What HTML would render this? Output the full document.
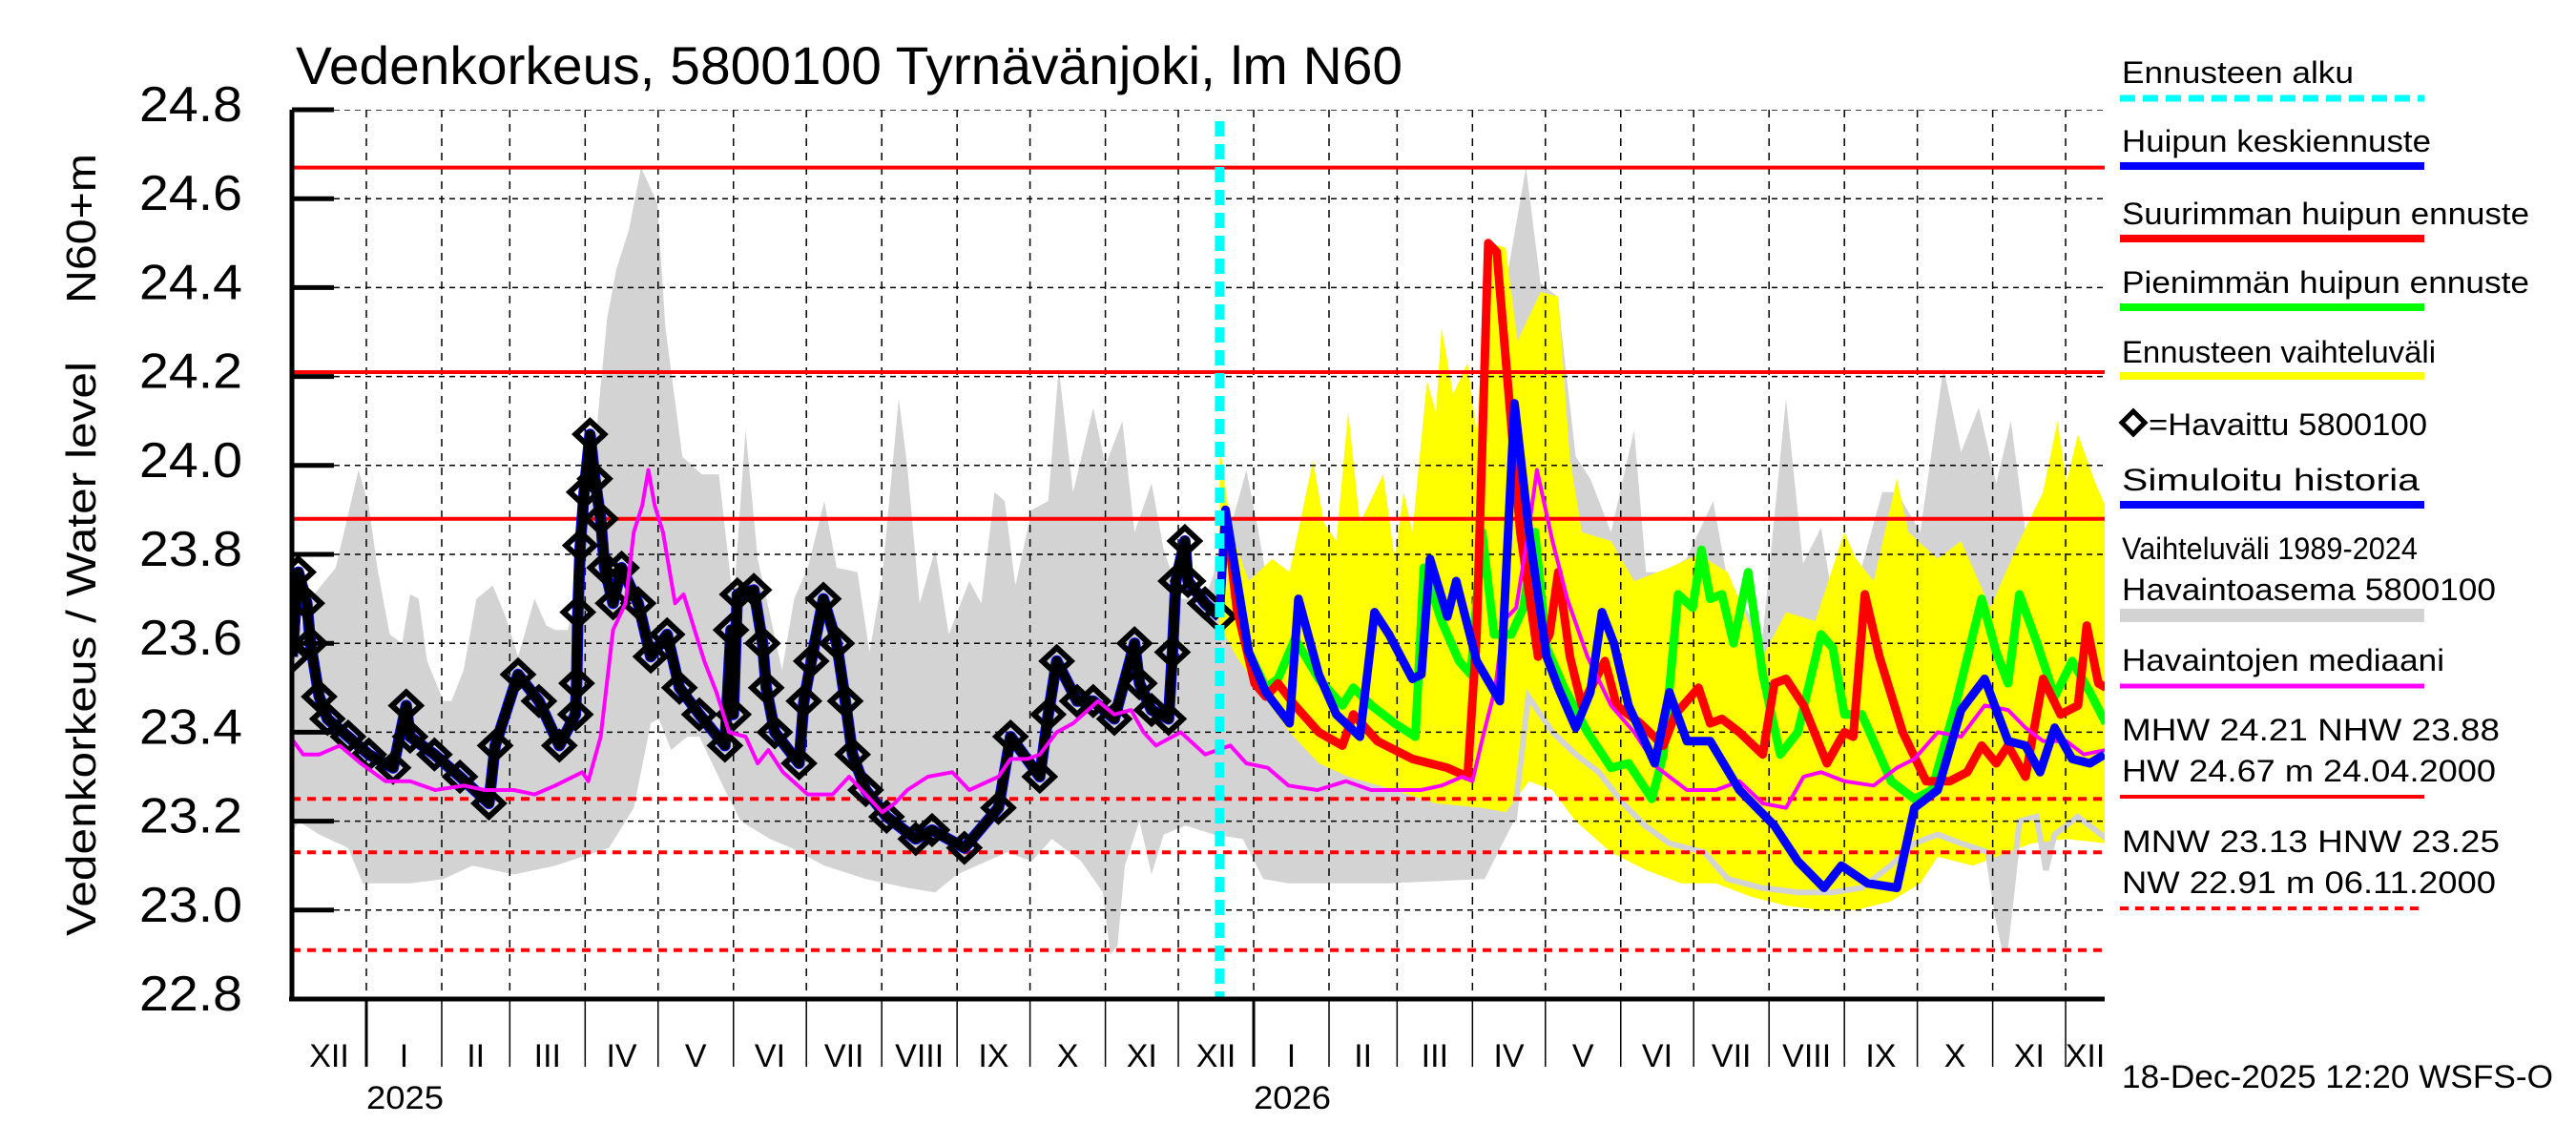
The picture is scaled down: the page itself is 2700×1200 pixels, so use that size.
<!DOCTYPE html>
<html><head><meta charset="utf-8"><style>
html,body{margin:0;padding:0;background:#fff;}
svg{display:block;font-family:"Liberation Sans",sans-serif;}
</style></head><body>
<svg id="chart" width="2700" height="1200" viewBox="0 0 2700 1200" xmlns="http://www.w3.org/2000/svg">
<defs><clipPath id="plotclip"><rect x="306" y="115" width="1900" height="932"/></clipPath></defs>
<g id="plot" clip-path="url(#plotclip)"></g>
<g id="axes"></g>
<text x="310" y="88" font-size="56" textLength="1160" lengthAdjust="spacingAndGlyphs">Vedenkorkeus, 5800100 Tyrnävänjoki, lm N60</text>
<text transform="translate(100,318) rotate(-90)" font-size="44" textLength="157" lengthAdjust="spacingAndGlyphs">N60+m</text>
<text transform="translate(100,981) rotate(-90)" font-size="44" textLength="602" lengthAdjust="spacingAndGlyphs">Vedenkorkeus / Water level</text>
<g id="legend"></g>
<text x="2224" y="1140" font-size="34" textLength="452" lengthAdjust="spacingAndGlyphs">18-Dec-2025 12:20 WSFS-O</text>
</svg>
<script>
// ---- data (days since 1 Jan 2025, water level m N60) ----
const yTicks = [22.8,23.0,23.2,23.4,23.6,23.8,24.0,24.2,24.4,24.6,24.8];
const refSolid = [24.67,24.21,23.88];
const refDotted = [23.25,23.13,22.91];
const forecastStartDay = 351;
const grayUpDays = [-33,-23,-12.6,-7.5,-3.2,1,4.5,9.6,14.7,18,21.5,25,31.7,35,40,45.3,52,57.3,62.4,69.2,74,77.7,82.8,89.6,94.7,99,102.8,108,113,119.7,123,130,138,145,151,156,161,171,176,181.6,188.4,193.5,202,207,212,219,222.5,227.6,234,239.6,248,253,258.4,262.6,267,273.7,280.5,284.8,290.7,299,304,311,316,323,328,335,345,357,362,367,374,385,400,420,440,460,470,477,483,490,497.5,503.5,512,521.5,526.4,533.5,543,554,560,574.4,584,591,598.4,605.6,615,623.6,629.6,639.2,648.8,656,663.3,670.5,676.5,682.5,692,699.3,706.5,716];
const grayUpVals = [23.54,23.70,23.77,23.89,23.99,23.91,23.77,23.62,23.60,23.71,23.70,23.56,23.47,23.47,23.54,23.70,23.73,23.66,23.57,23.70,23.64,23.63,23.63,23.77,24.08,24.33,24.44,24.53,24.67,24.59,24.31,24.02,23.98,23.98,23.69,24.08,23.79,23.54,23.70,23.77,23.92,23.77,23.76,23.58,23.74,24.15,24.0,23.69,23.81,23.62,23.74,23.69,23.94,23.92,23.73,23.90,23.92,24.22,23.94,24.13,24.0,24.10,23.85,23.96,23.81,23.70,23.70,23.89,23.99,23.85,23.63,23.6,23.62,23.6,23.8,24.1,24.45,24.67,24.41,24.38,24.02,23.97,23.85,24.08,23.76,23.76,23.79,23.92,23.74,23.62,24.15,23.78,23.86,23.62,23.77,23.94,23.94,23.85,24.22,24.03,24.13,23.96,24.10,23.85,23.87,23.75,23.65,23.71];
const grayLowDays = [-33,-28,-19.4,-7.5,-1.5,18,31.7,43.6,60.7,77.7,99.8,110,117,120.3,125.4,132,137,147.5,154,166,174.8,188.4,205.4,222.5,234,243,263.5,273.7,282,294,303,306,309,312,318,323,328,337,348.6,360.5,369,379.3,420,460,472,478,488,497.5,507,517,526,536,550.4,560,574,589,603,615,627,636.8,646.4,656,667,671,674,677,680,687,690.9,694.5,704,716];
const grayLowVals = [23.14,23.20,23.17,23.14,23.06,23.06,23.07,23.10,23.08,23.10,23.14,23.23,23.42,23.43,23.36,23.39,23.39,23.27,23.20,23.16,23.14,23.10,23.07,23.05,23.04,23.08,23.13,23.11,23.16,23.11,23.04,22.90,22.92,23.10,23.20,23.08,23.17,23.19,23.17,23.16,23.07,23.06,23.06,23.07,23.2,23.48,23.40,23.35,23.31,23.24,23.19,23.15,23.13,23.07,23.05,23.04,23.04,23.05,23.10,23.15,23.17,23.15,23.13,22.99,22.91,23.05,23.20,23.21,23.09,23.17,23.21,23.16];
const yelUpDays = [351,355.8,363,372.6,379.8,389.4,394,399,403.9,408.7,418.3,423,426.7,430.3,436.3,440,442.3,447,453,456.7,461.5,468.7,473.5,483,490.3,495,500,512,521.5,531.2,536,548,560,574.4,584,596,608,612.8,620,629.6,634.4,646.4,656,668,680,689.7,695.7,699.3,704.1,711.3,716];
const yelUpVals = [24.05,23.85,23.74,23.79,23.76,24.01,23.87,23.83,24.12,23.87,23.98,23.79,23.94,23.85,24.19,24.12,24.31,24.16,24.23,24.07,24.50,24.49,24.28,24.39,24.38,24.02,23.85,23.83,23.74,23.76,23.77,23.80,23.76,23.57,23.67,23.65,23.85,23.79,23.74,23.97,23.85,23.79,23.83,23.68,23.83,23.94,24.10,23.96,24.07,23.96,23.90];
const yelLowDays = [351,358,367.8,379.8,391.8,403.9,423,440,459,468.7,478.3,487.9,497.5,512,526.4,540.8,555.2,569.6,584,598.4,612.8,627.2,639.2,646.4,660.9,675.3,685,699.3,716];
const yelLowVals = [23.64,23.57,23.49,23.40,23.33,23.30,23.27,23.24,23.23,23.22,23.29,23.27,23.20,23.13,23.09,23.06,23.06,23.03,23.01,23.00,23.00,23.02,23.06,23.12,23.10,23.13,23.15,23.16,23.15];
const obsDays = [-30.5,-28,-24.5,-23,-19.4,-16,-7.5,1,11,16.4,18,28,38.5,50.4,53,62.4,71,79.4,86,86.5,87,88,89.6,92,94,96.4,98,101.5,105,111.8,117,123.7,128.8,137,147.5,150,151,152.6,159.4,163,164.5,168,178,180,183,188,193.5,197,200,205.4,214,226,232.7,246,260,265,277,280.5,284,292.4,299,307.7,316,318,323,330,331.6,333,336.7,338,345,351];
const obsVals = [23.57,23.76,23.69,23.60,23.48,23.43,23.39,23.35,23.32,23.46,23.39,23.35,23.30,23.24,23.37,23.53,23.47,23.37,23.44,23.51,23.67,23.82,23.94,24.07,23.97,23.88,23.77,23.69,23.77,23.69,23.57,23.62,23.50,23.44,23.37,23.63,23.44,23.71,23.72,23.60,23.50,23.40,23.33,23.47,23.56,23.70,23.60,23.47,23.35,23.27,23.21,23.16,23.18,23.14,23.23,23.39,23.30,23.44,23.56,23.47,23.47,23.43,23.60,23.51,23.45,23.43,23.58,23.74,23.83,23.74,23.69,23.66];
const medDays = [-31.3,-26,-19.4,-11,-2.3,7.9,18,28.3,40.2,48.7,60.7,69.2,77.7,88.8,91.3,96.4,101.5,106.6,110,113.5,116,118.6,122,127,130.5,135.6,139,144,149.2,156,161,165.4,171.4,181.6,191.8,198.6,205.4,212.2,217.3,222.5,231,241,248,260,265,272,277,284,290.7,301,307.7,314.6,319.7,324.8,335,345,355.4,362,370.8,379.3,391.2,403,413.3,421.8,433.8,442.3,450.8,455,459.3,464.4,467.8,473,478,481.5,487.9,494,502.3,512,521.5,531.2,543.2,555.2,564.8,574.4,584,591.2,598.4,608,620,629.6,636.8,646.4,656,665.7,675.3,682.5,689.7,699.3,706.5,715.6];
const medVals = [23.39,23.35,23.35,23.37,23.33,23.29,23.29,23.27,23.28,23.27,23.27,23.26,23.28,23.31,23.29,23.39,23.63,23.69,23.85,23.91,23.99,23.91,23.85,23.69,23.71,23.62,23.56,23.49,23.40,23.39,23.33,23.36,23.31,23.26,23.26,23.30,23.26,23.22,23.24,23.27,23.30,23.31,23.27,23.30,23.34,23.34,23.35,23.40,23.42,23.47,23.44,23.45,23.40,23.37,23.40,23.35,23.37,23.33,23.32,23.28,23.27,23.29,23.27,23.27,23.27,23.28,23.30,23.29,23.39,23.50,23.65,23.68,23.85,23.99,23.83,23.70,23.57,23.46,23.40,23.32,23.27,23.27,23.29,23.24,23.23,23.30,23.31,23.29,23.28,23.32,23.34,23.40,23.39,23.46,23.45,23.41,23.38,23.38,23.35,23.36];
const meanFcDays = [351,353.4,357,363,370,379.8,383.4,391.8,399,408.7,414.7,420.7,430.3,434,437.5,444.7,448.3,456.7,466.3,468.7,472.3,478.3,485.5,490.3,497.5,503.5,508.3,513.2,519.2,530,536,543.2,552.8,564.8,579.2,588.8,599.6,606.8,617.6,629.6,636.8,646.4,656,665.7,675.3,682.5,688.5,694.5,701.7,709,715];
const meanFcVals = [23.66,23.90,23.78,23.58,23.49,23.42,23.70,23.53,23.44,23.39,23.67,23.62,23.52,23.53,23.79,23.66,23.74,23.56,23.47,23.74,24.14,23.85,23.57,23.50,23.41,23.49,23.67,23.60,23.46,23.33,23.49,23.38,23.38,23.27,23.19,23.11,23.05,23.10,23.06,23.05,23.23,23.27,23.45,23.52,23.38,23.37,23.31,23.41,23.34,23.33,23.35];
const maxFcDays = [351,353.4,358,365.4,370,375,382,391.8,401.5,406,415.9,430.3,444.7,453,456.7,461.5,465,468.7,474.7,482,486.7,490.3,495.1,500,504.7,509.5,514.3,524,533.5,538.4,548,552.8,557.6,564.8,574.4,579.2,584,591.2,600.8,608,611.6,616.4,622.4,632,641.6,651.3,658.5,664.5,670.5,675.3,682.5,689.7,696.9,704.1,707.7,712.5,715.6];
const maxFcVals = [23.66,23.90,23.68,23.51,23.48,23.51,23.46,23.40,23.37,23.44,23.38,23.34,23.32,23.30,23.62,24.50,24.48,24.24,23.85,23.57,23.62,23.76,23.57,23.46,23.51,23.56,23.46,23.42,23.37,23.44,23.50,23.42,23.43,23.40,23.35,23.51,23.52,23.46,23.33,23.40,23.39,23.71,23.57,23.40,23.29,23.29,23.31,23.37,23.33,23.37,23.30,23.52,23.44,23.46,23.64,23.51,23.50];
const minFcDays = [351,353.4,357,363,370,375,382,391.8,401.5,406,413.5,423,431.5,435,442.3,449.5,454.3,459,463.9,471,476,480.7,485.5,492.7,502.3,512,519.2,528.8,533.5,539.6,545.6,549.2,552.8,557.6,562.4,568.4,574.4,581.6,588.8,598.4,603.2,608,615.2,627.2,636.8,644,653.7,664.5,670.5,675.3,680,687.3,694.5,701.7,709,715.6];
const minFcVals = [23.66,23.90,23.78,23.58,23.50,23.52,23.61,23.52,23.46,23.50,23.46,23.42,23.39,23.77,23.65,23.56,23.53,23.85,23.62,23.62,23.68,23.85,23.59,23.50,23.40,23.32,23.33,23.25,23.35,23.71,23.68,23.81,23.70,23.71,23.60,23.76,23.53,23.35,23.40,23.62,23.59,23.44,23.44,23.29,23.25,23.27,23.46,23.70,23.58,23.51,23.71,23.60,23.48,23.56,23.49,23.42];
const monthNames = ["XII","I","II","III","IV","V","VI","VII","VIII","IX","X","XI","XII","I","II","III","IV","V","VI","VII","VIII","IX","X","XI","XII"];
const monthStarts = [-31,0,31,59,90,120,151,181,212,243,273,304,334,365,396,424,455,485,516,546,577,608,638,669,699,730];
const yearLabels = ["2025","2026"];
const yearDays = [0,365];

// ---- scales ----
const NS="http://www.w3.org/2000/svg";
const XL=306, XR=2206, YT=115, YB=1047;
function xs(d){return 384+d*2.548;}
function ys(v){return 115+(24.8-v)*466;}
function el(tag,attrs,parent){const e=document.createElementNS(NS,tag);for(const k in attrs)e.setAttribute(k,attrs[k]);parent.appendChild(e);return e;}
function pts(days,vals){return days.map((d,i)=>xs(d).toFixed(1)+","+ys(vals[i]).toFixed(1)).join(" ");}
const plot=document.getElementById('plot'), axes=document.getElementById('axes'), legend=document.getElementById('legend');

let bandPts=pts(grayUpDays,grayUpVals)+" "+grayLowDays.map((d,i)=>xs(d).toFixed(1)+","+ys(grayLowVals[i]).toFixed(1)).reverse().join(" ");
let g=el('polygon',{points:bandPts,fill:'#d3d3d3',stroke:'none'},plot);


let yb=pts(yelUpDays,yelUpVals)+" "+yelLowDays.map((d,i)=>xs(d).toFixed(1)+","+ys(yelLowVals[i]).toFixed(1)).reverse().join(" ");
let yy=el('polygon',{points:yb,fill:'#ffff00',stroke:'none'},plot);


let ld=[],lv=[];grayLowDays.forEach((d,i)=>{if(d>=470){ld.push(d);lv.push(grayLowVals[i]);}});
let le=el('polyline',{points:pts(ld,lv),fill:'none',stroke:'#d3d3d3','stroke-width':6},plot);



yTicks.forEach(v=>{const l=el('line',{x1:XL,x2:XR,y1:ys(v),y2:ys(v),stroke:'#000','stroke-width':1.5,'stroke-dasharray':'6,5'},plot);

});
monthStarts.forEach(d=>{const x=xs(d);if(x<=XL||x>=XR)return;const l=el('line',{x1:x,x2:x,y1:YT,y2:YB,stroke:'#000','stroke-width':1.5,'stroke-dasharray':'8,7'},plot);

});

refSolid.forEach(v=>{const l=el('line',{x1:XL,x2:XR,y1:ys(v),y2:ys(v),stroke:'#ff0000','stroke-width':4},plot);

});
refDotted.forEach(v=>{const l=el('line',{x1:XL,x2:XR,y1:ys(v),y2:ys(v),stroke:'#ff0000','stroke-width':4,'stroke-dasharray':'9,7'},plot);

});

function line(days,vals,color,w,name){const p=el('polyline',{points:pts(days,vals),fill:'none',stroke:color,'stroke-width':w,'stroke-linejoin':'round'},plot);

return p;}
line(obsDays,obsVals,'#0000ff',12,'simulated-history-line');
line(obsDays,obsVals,'#000000',10,'observed-trace');
obsDays.forEach((d,i)=>{const x=xs(d),y=ys(obsVals[i]);const p=el('path',{d:`M${x},${y-14}L${x+15},${y}L${x},${y+14}L${x-15},${y}Z`,fill:'none',stroke:'#000','stroke-width':6},plot);

});
line(minFcDays,minFcVals,'#00ff00',9,'min-peak-forecast-line');
line(maxFcDays,maxFcVals,'#ff0000',9,'max-peak-forecast-line');
line(medDays,medVals,'#ff00ff',4,'observed-median-line');
line(meanFcDays,meanFcVals,'#0000ff',9,'mean-peak-forecast-line');
let fs=el('line',{x1:xs(forecastStartDay),x2:xs(forecastStartDay),y1:127,y2:YB,stroke:'#00ffff','stroke-width':10,'stroke-dasharray':'16,8'},plot);



let a1=el('line',{x1:XL,x2:XL,y1:YT,y2:YB+2,stroke:'#000','stroke-width':5},axes);


let a2=el('line',{x1:XL-3,x2:XR,y1:YB,y2:YB,stroke:'#000','stroke-width':5},axes);


yTicks.forEach(v=>{const t=el('line',{x1:XL,x2:350,y1:ys(v),y2:ys(v),stroke:'#000','stroke-width':5},axes);


const tx=el('text',{x:254,y:ys(v)+12,'font-size':52,'text-anchor':'end',textLength:108,lengthAdjust:'spacingAndGlyphs'},axes);tx.textContent=v.toFixed(1);

});
monthStarts.forEach((d,i)=>{const x=xs(d);if(x>XL&&x<XR){const t=el('line',{x1:x,x2:x,y1:YB,y2:1118,stroke:'#000','stroke-width':(d===0||d===365)?3:1.5},axes);

}
if(i<monthNames.length){const x0=Math.max(XL,xs(d)),x1=Math.min(XR,xs(monthStarts[i+1]));const tx=el('text',{x:(x0+x1)/2,y:1118,'font-size':34,'text-anchor':'middle'},axes);tx.textContent=monthNames[i];

}});
yearLabels.forEach((s,i)=>{const tx=el('text',{x:xs(yearDays[i]),y:1162,'font-size':34,textLength:81,lengthAdjust:'spacingAndGlyphs'},axes);tx.textContent=s;

});

function ltext(s,yb,w,name){const t=el('text',{x:2224,y:yb,'font-size':32,textLength:w,lengthAdjust:'spacingAndGlyphs'},legend);t.textContent=s;

}
function lline(yv,color,w,dash,name){const l=el('line',{x1:2222,x2:2541,y1:yv,y2:yv,stroke:color,'stroke-width':w},legend);if(dash)l.setAttribute('stroke-dasharray',dash);

}
ltext('Ennusteen alku',87,243,'legend-forecast-start-label');lline(103,'#00ffff',7,'16,8','legend-forecast-start-swatch');
ltext('Huipun keskiennuste',159,324,'legend-mean-forecast-label');lline(174,'#0000ff',8,null,'legend-mean-forecast-swatch');
ltext('Suurimman huipun ennuste',235,427,'legend-max-forecast-label');lline(250,'#ff0000',8,null,'legend-max-forecast-swatch');
ltext('Pienimmän huipun ennuste',307,427,'legend-min-forecast-label');lline(322,'#00ff00',8,null,'legend-min-forecast-swatch');
ltext('Ennusteen vaihteluväli',380,329,'legend-forecast-range-label');lline(394,'#ffff00',8,null,'legend-forecast-range-swatch');
let dm=el('path',{d:'M2236,431L2248,443L2236,455L2224,443Z',fill:'none',stroke:'#000','stroke-width':5},legend);


let ht=el('text',{x:2252,y:456,'font-size':32,textLength:292,lengthAdjust:'spacingAndGlyphs'},legend);ht.textContent='=Havaittu 5800100';


ltext('Simuloitu historia',514,312,'legend-simulated-label');lline(529,'#0000ff',8,null,'legend-simulated-swatch');
ltext('Vaihteluväli 1989-2024',586,310,'legend-range-label');
ltext('Havaintoasema 5800100',629,392,'legend-station-label');lline(645,'#d3d3d3',14,null,'legend-range-swatch');
ltext('Havaintojen mediaani',703,338,'legend-median-label');lline(719,'#ff00ff',5,null,'legend-median-swatch');
ltext('MHW  24.21 NHW  23.88',776,396,'legend-mhw-label');
ltext('HW  24.67 m 24.04.2000',819,392,'legend-hw-label');lline(835,'#ff0000',4,null,'legend-hw-swatch');
ltext('MNW  23.13 HNW  23.25',893,396,'legend-mnw-label');
ltext('NW  22.91 m 06.11.2000',936,392,'legend-nw-label');lline(952,'#ff0000',4,'9,7','legend-nw-swatch');
</script>
</body></html>
